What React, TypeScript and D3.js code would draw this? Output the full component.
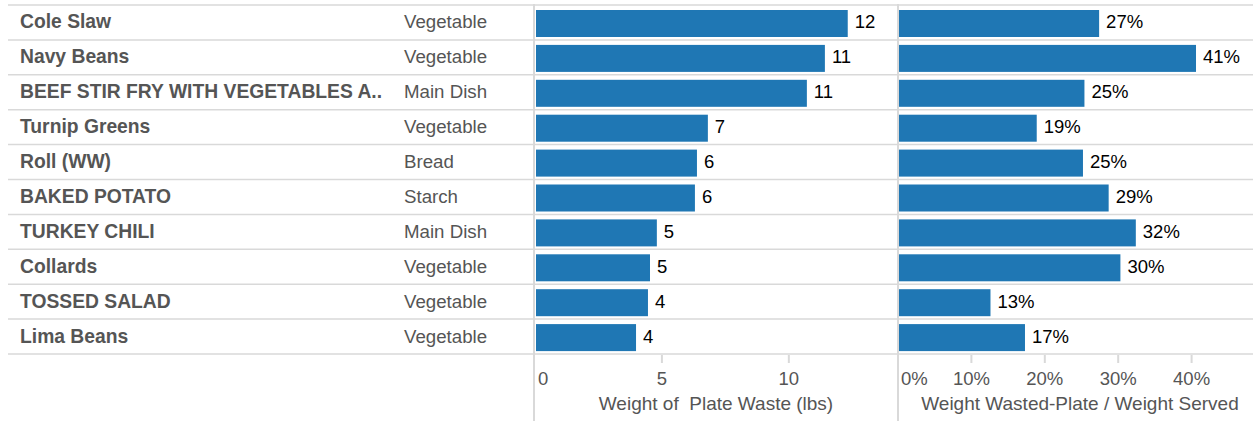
import React from 'react';
import * as d3 from 'd3';

const names = [
  'Cole Slaw', 'Navy Beans', 'BEEF STIR FRY WITH VEGETABLES A..', 'Turnip Greens', 'Roll (WW)',
  'BAKED POTATO', 'TURKEY CHILI', 'Collards', 'TOSSED SALAD', 'Lima Beans',
];
const kinds = [
  'Vegetable', 'Vegetable', 'Main Dish', 'Vegetable', 'Bread',
  'Starch', 'Main Dish', 'Vegetable', 'Vegetable', 'Vegetable',
];
const wasteLbs = [12.32, 11.42, 10.71, 6.81, 6.38, 6.3, 4.8, 4.53, 4.45, 3.98];
const wasteShare = [0.274, 0.406, 0.254, 0.189, 0.252, 0.287, 0.324, 0.303, 0.126, 0.173];
const lbsTicks = [0, 5, 10];
const shareTicks = [0, 0.1, 0.2, 0.3, 0.4];

const W = 1253;
const H = 421;
const blue = '#1f77b4';
const grid = '#d9d9d9';
const textGray = '#555';
const font = 'Arial, "Liberation Sans", sans-serif';

const renderChart = (svg: any) => {
  svg.selectAll('*').remove();

  const rows = d3.scaleBand().domain(names).range([5, 354]);
  const xL = d3.scaleLinear().domain([0, 14.3]).range([535, 898]);
  const xR = d3.scaleLinear().domain([0, 0.5]).range([898, 1265]);
  const bw = rows.bandwidth();

  // row lines
  const lines = [...names.map(n => rows(n)!), 354];
  svg.append('g')
    .selectAll('line')
    .data(lines)
    .join('line')
    .attr('x1', 8).attr('x2', W)
    .attr('y1', (d: number) => d).attr('y2', (d: number) => d)
    .attr('stroke', grid).attr('stroke-width', 1.5);

  // panel dividers
  svg.append('g')
    .selectAll('line')
    .data([534, 898])
    .join('line')
    .attr('x1', (d: number) => d).attr('x2', (d: number) => d)
    .attr('y1', 4).attr('y2', H)
    .attr('stroke', grid).attr('stroke-width', 2);

  const rowData = names.map((n, i) => ({ n, k: kinds[i], v: wasteLbs[i], p: wasteShare[i] }));

  // row headers
  const hdr = svg.append('g').attr('font-family', font).attr('fill', textGray);
  hdr.selectAll('.nm')
    .data(rowData)
    .join('text')
    .attr('class', 'nm')
    .attr('x', 20)
    .attr('y', (d: any) => rows(d.n)! + bw / 2 + 6)
    .attr('font-size', 19.3)
    .attr('font-weight', 'bold')
    .text((d: any) => d.n);
  hdr.selectAll('.kd')
    .data(rowData)
    .join('text')
    .attr('class', 'kd')
    .attr('x', 404)
    .attr('y', (d: any) => rows(d.n)! + bw / 2 + 6)
    .attr('font-size', 18.7)
    .text((d: any) => d.k);

  // bars
  const drawBars = (cls: string, x: any, get: (d: any) => number, fmt: (v: number) => string) => {
    const g = svg.append('g');
    g.selectAll('rect')
      .data(rowData)
      .join('rect')
      .attr('x', x(0) + 1)
      .attr('y', (d: any) => rows(d.n)! + 5)
      .attr('width', (d: any) => x(get(d)) - x(0) - 1)
      .attr('height', 27)
      .attr('fill', blue);
    g.selectAll('text')
      .data(rowData)
      .join('text')
      .attr('class', cls)
      .attr('x', (d: any) => x(get(d)) + 7)
      .attr('y', (d: any) => rows(d.n)! + bw / 2 + 6)
      .attr('font-family', font)
      .attr('font-size', 18.5)
      .attr('fill', '#000')
      .text((d: any) => fmt(get(d)));
  };
  drawBars('lv', xL, d => d.v, v => d3.format('.0f')(v));
  drawBars('pv', xR, d => d.p, v => d3.format('.0%')(v));

  // axes
  const drawAxis = (x: any, ticks: number[], fmt: (v: number) => string, title: string, x0: number, x1: number) => {
    const g = svg.append('g').attr('font-family', font).attr('fill', textGray);
    g.selectAll('line')
      .data(ticks.filter(t => t > 0))
      .join('line')
      .attr('x1', (d: number) => x(d)).attr('x2', (d: number) => x(d))
      .attr('y1', 355).attr('y2', 363)
      .attr('stroke', grid).attr('stroke-width', 2);
    g.selectAll('text.tk')
      .data(ticks)
      .join('text')
      .attr('class', 'tk')
      .attr('x', (d: number) => d === 0 ? x(d) + 3 : x(d))
      .attr('y', 385)
      .attr('font-size', 18.5)
      .attr('text-anchor', (d: number) => d === 0 ? 'start' : 'middle')
      .text((d: number) => fmt(d));
    g.append('text')
      .attr('x', (x0 + x1) / 2)
      .attr('y', 410)
      .attr('font-size', 19)
      .attr('text-anchor', 'middle')
      .text(title);
  };
  drawAxis(xL, lbsTicks, v => d3.format('d')(v), 'Weight of\u00a0 Plate Waste (lbs)', 534, 898);
  drawAxis(xR, shareTicks, v => d3.format('.0%')(v), 'Weight Wasted-Plate / Weight Served', 898, 1262);
};

const App: React.FC = () => {
  const ref = React.useRef<SVGSVGElement>(null);

  React.useEffect(() => {
    renderChart(d3.select(ref.current));
  }, []);

  return (
    <svg
      ref={ref}
      width={W}
      height={H}
      style={{ position: 'absolute', left: 0, top: 0, background: '#fff' }}
    />
  );
};

export default App;
